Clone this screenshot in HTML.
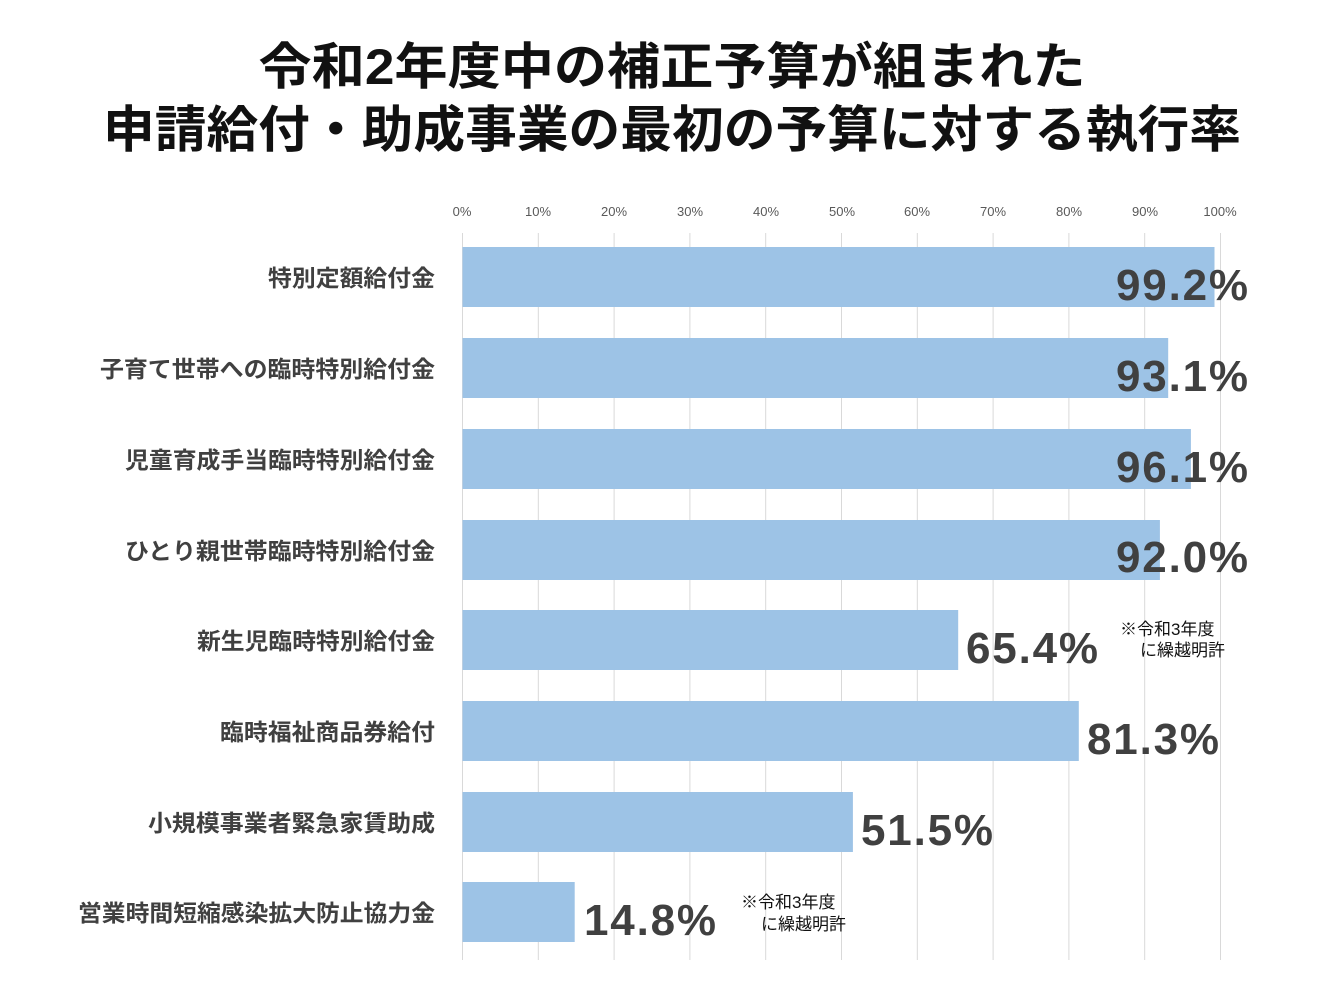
<!DOCTYPE html>
<html><head><meta charset="utf-8"><style>body{margin:0;background:#fff}svg{display:block}</style></head><body>
<svg width="1344" height="1008" xmlns="http://www.w3.org/2000/svg" font-family="'Liberation Sans','Noto Sans CJK JP',sans-serif">
<rect width="1344" height="1008" fill="#fff"/>
<g font-weight="bold" fill="#111" font-size="50" text-anchor="middle">
<text x="672" y="84" textLength="827" lengthAdjust="spacingAndGlyphs">令和2年度中の補正予算が組まれた</text>
<text x="672" y="147" textLength="1138" lengthAdjust="spacingAndGlyphs">申請給付・助成事業の最初の予算に対する執行率</text>
</g>
<g stroke="#d9d9d9" stroke-width="1">
<line x1="462.5" y1="233" x2="462.5" y2="960"/><line x1="538.3" y1="233" x2="538.3" y2="960"/><line x1="614.1" y1="233" x2="614.1" y2="960"/><line x1="689.9" y1="233" x2="689.9" y2="960"/><line x1="765.7" y1="233" x2="765.7" y2="960"/><line x1="841.5" y1="233" x2="841.5" y2="960"/><line x1="917.3" y1="233" x2="917.3" y2="960"/><line x1="993.1" y1="233" x2="993.1" y2="960"/><line x1="1068.9" y1="233" x2="1068.9" y2="960"/><line x1="1144.7" y1="233" x2="1144.7" y2="960"/><line x1="1220.5" y1="233" x2="1220.5" y2="960"/>
</g>
<g font-size="13" fill="#595959" text-anchor="middle">
<text x="462" y="216">0%</text><text x="538" y="216">10%</text><text x="614" y="216">20%</text><text x="690" y="216">30%</text><text x="766" y="216">40%</text><text x="842" y="216">50%</text><text x="917" y="216">60%</text><text x="993" y="216">70%</text><text x="1069" y="216">80%</text><text x="1145" y="216">90%</text><text x="1220" y="216">100%</text>
</g>
<g fill="#9dc3e6">
<rect x="462.5" y="247" width="752" height="60"/>
<rect x="462.5" y="338" width="705.7" height="60"/>
<rect x="462.5" y="429" width="728.4" height="60"/>
<rect x="462.5" y="520" width="697.4" height="60"/>
<rect x="462.5" y="610" width="495.7" height="60"/>
<rect x="462.5" y="701" width="616.3" height="60"/>
<rect x="462.5" y="792" width="390.4" height="60"/>
<rect x="462.5" y="882" width="112.2" height="60"/>
</g>
<g font-size="23" fill="#404040" font-weight="bold">
<text x="268" y="286" textLength="167" lengthAdjust="spacingAndGlyphs">特別定額給付金</text>
<text x="100" y="377" textLength="335" lengthAdjust="spacingAndGlyphs">子育て世帯への臨時特別給付金</text>
<text x="125" y="468" textLength="310" lengthAdjust="spacingAndGlyphs">児童育成手当臨時特別給付金</text>
<text x="125" y="559" textLength="310" lengthAdjust="spacingAndGlyphs">ひとり親世帯臨時特別給付金</text>
<text x="197" y="649" textLength="238" lengthAdjust="spacingAndGlyphs">新生児臨時特別給付金</text>
<text x="220" y="740" textLength="215" lengthAdjust="spacingAndGlyphs">臨時福祉商品券給付</text>
<text x="148" y="831" textLength="287" lengthAdjust="spacingAndGlyphs">小規模事業者緊急家賃助成</text>
<text x="78" y="921" textLength="357" lengthAdjust="spacingAndGlyphs">営業時間短縮感染拡大防止協力金</text>
</g>
<g font-size="44" fill="#404040" font-weight="bold">
<text x="1116" y="300" textLength="132">99.2%</text>
<text x="1116" y="391" textLength="132">93.1%</text>
<text x="1116" y="482" textLength="132">96.1%</text>
<text x="1116" y="572" textLength="132">92.0%</text>
<text x="966" y="663" textLength="132">65.4%</text>
<text x="1087" y="754" textLength="132">81.3%</text>
<text x="861" y="845" textLength="132">51.5%</text>
<text x="584" y="935" textLength="132">14.8%</text>
</g>
<g font-size="17" fill="#111">
<text x="1120" y="635">※令和3年度</text><text x="1140" y="656">に繰越明許</text>
<text x="741" y="908">※令和3年度</text><text x="761" y="930">に繰越明許</text>
</g>
</svg>
</body></html>
